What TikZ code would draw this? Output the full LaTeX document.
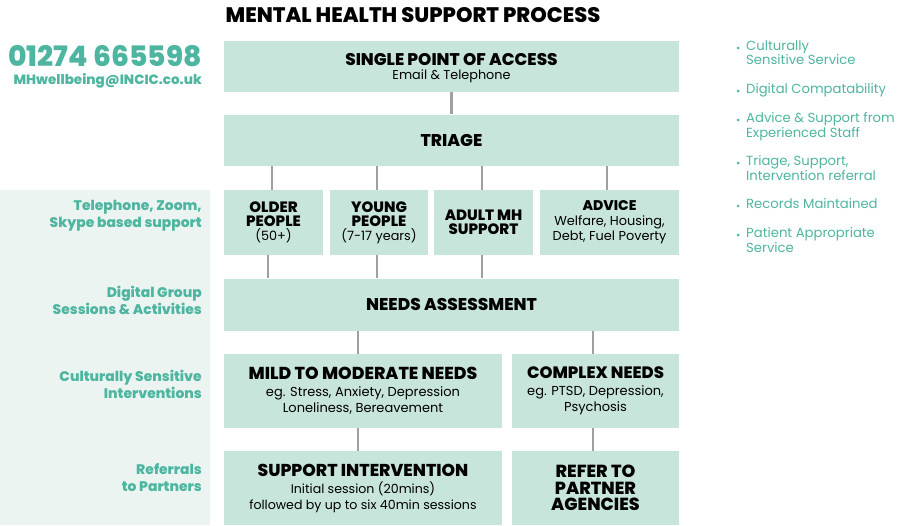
\documentclass[tikz,border=0pt]{standalone}
\usepackage{fontspec}
\setmainfont{Poppins}[BoldFont={Poppins ExtraBold}]
\usetikzlibrary{calc}
\definecolor{boxfill}{HTML}{C8E5DC}
\definecolor{panelfill}{HTML}{EBF4F1}
\definecolor{teal}{HTML}{4DB5A0}
\definecolor{linkgray}{HTML}{A0A0A0}
\newcommand{\fs}[1]{\fontsize{#1}{#1}\selectfont}
\tikzset{
  stage/.style={fill=boxfill, draw=none, inner sep=0pt, align=center, text=black},
  head/.style={font=\fs{17}\bfseries},
  link/.style={draw=linkgray, line width=2.6pt},
  sidelabel/.style={anchor=east, align=right, text=teal, font=\fontsize{13.9}{17}\selectfont\bfseries, inner sep=0pt},
  perk/.style={anchor=north west, align=left, text=teal, font=\fontsize{13.2}{14.5}\selectfont, inner sep=0pt},
  dot/.style={circle, fill=teal, inner sep=0pt, minimum size=3pt}
}
\begin{document}
\begin{tikzpicture}[x=1pt, y=-1pt]
\useasboundingbox (0,0) rectangle (901,525);
% side panel
\fill[panelfill] (0,190) rectangle (210,525);

% title and contact
\node[inner sep=0pt, font=\fs{21}\bfseries] (title) at (413,15) {MENTAL HEALTH SUPPORT PROCESS};
\node[anchor=base east, inner sep=0pt, text depth=0pt, text=teal, font=\fs{28.2}\bfseries] (phone) at (202,66.5) {01274 665598};
\node[anchor=base east, inner sep=0pt, text height=9.5pt, text=teal, font=\fs{13.5}\bfseries] (mail) at (202,84.5) {MHwellbeing@INCIC.co.uk};

% process boxes
\node[stage, minimum width=455pt, minimum height=51pt] (spa) at (451.5,66.5) {};
\node[inner sep=0pt, font=\fs{16.9}\bfseries] (spat) at (451.5,60) {SINGLE POINT OF ACCESS};
\node[inner sep=0pt, font=\fs{12.8}] (spas) at (451.5,76.5) {Email \& Telephone};

\node[stage, minimum width=455pt, minimum height=51pt, head] (triage) at (451.5,140) {TRIAGE};

\node[stage, minimum width=99pt, minimum height=65pt, font=\fontsize{15}{14}\selectfont\bfseries] (older) at (273.5,222.5) {OLDER\\PEOPLE\\{\fontsize{12.8}{15}\selectfont\mdseries (50+)}};
\node[stage, minimum width=98pt, minimum height=65pt, font=\fontsize{15}{14}\selectfont\bfseries] (young) at (379,222.5) {YOUNG\\PEOPLE\\{\fontsize{12.8}{15}\selectfont\mdseries (7-17 years)}};
\node[stage, minimum width=99pt, minimum height=65pt, font=\fontsize{15}{14}\selectfont\bfseries] (adult) at (483.5,222.5) {ADULT MH\\SUPPORT};
\node[stage, minimum width=139pt, minimum height=65pt, font=\fontsize{12.9}{15}\selectfont] (advice) at (609.5,222.5) {{\fs{14}\bfseries ADVICE}\\Welfare, Housing,\\Debt, Fuel Poverty};

\node[stage, minimum width=455pt, minimum height=52pt, head] (needs) at (451.5,304.5) {NEEDS ASSESSMENT};

\node[stage, minimum width=278pt, minimum height=74pt, font=\fontsize{13}{16}\selectfont] (mild) at (363,391) {{\fs{17.3}\bfseries MILD TO MODERATE NEEDS}\\[1pt]eg. Stress, Anxiety, Depression\\Loneliness, Bereavement};
\node[stage, minimum width=167pt, minimum height=74pt, font=\fontsize{13}{16}\selectfont] (complex) at (595.5,391) {{\fs{16.5}\bfseries COMPLEX NEEDS}\\[1pt]eg. PTSD, Depression,\\Psychosis};

\node[stage, minimum width=278pt, minimum height=74pt, font=\fontsize{12.6}{16}\selectfont] (interv) at (363,488) {{\fs{17.2}\bfseries SUPPORT INTERVENTION}\\[1pt]Initial session (20mins)\\followed by up to six 40min sessions};
\node[stage, minimum width=167pt, minimum height=74pt, font=\fontsize{17.5}{16.5}\selectfont\bfseries] (refer) at (595.5,488) {REFER TO\\PARTNER\\AGENCIES};

% connectors
\draw[link] (spa.south) -- (triage.north);
\draw[link] ($(older.north)+(-1.5,0)$) -- ($(older.north |- triage.south)+(-1.5,0)$);
\draw[link] ($(young.north)+(-2,0)$) -- ($(young.north |- triage.south)+(-2,0)$);
\draw[link] ($(adult.north)+(-1.5,0)$) -- ($(adult.north |- triage.south)+(-1.5,0)$);
\draw[link] ($(advice.north)+(-2.5,0)$) -- ($(advice.north |- triage.south)+(-2.5,0)$);
\draw[link] ($(older.south)+(-5.5,0)$) -- ($(older.south |- needs.north)+(-5.5,0)$);
\draw[link] ($(young.south)+(-2,0)$) -- ($(young.south |- needs.north)+(-2,0)$);
\draw[link] ($(adult.south)+(-1.5,0)$) -- ($(adult.south |- needs.north)+(-1.5,0)$);
\draw[link] ($(mild.north)+(-5,0)$) -- ($(mild.north |- needs.south)+(-5,0)$);
\draw[link] ($(complex.north)+(-2.5,0)$) -- ($(complex.north |- needs.south)+(-2.5,0)$);
\draw[link] ($(mild.south)+(-5,0)$) -- ($(interv.north)+(-5,0)$);
\draw[link] ($(complex.south)+(-2.5,0)$) -- ($(refer.north)+(-2.5,0)$);

% side labels
\node[sidelabel] (l1) at (202,215.5) {Telephone, Zoom,\\Skype based support};
\node[sidelabel] (l2) at (202,300.5) {Digital Group\\Sessions \& Activities};
\node[sidelabel] (l3) at (202,384.5) {Culturally Sensitive\\Interventions};
\node[sidelabel] (l4) at (202,478) {Referrals\\to Partners};

% benefits list
\node[perk] (p1) at (746,40.5) {Culturally\\Sensitive Service};
\node[perk] (p2) at (746,83.5) {Digital Compatability};
\node[perk] (p3) at (746,112.5) {Advice \& Support from\\Experienced Staff};
\node[perk] (p4) at (746,155.5) {Triage, Support,\\Intervention referral};
\node[perk] (p5) at (746,198.5) {Records Maintained};
\node[perk] (p6) at (746,227.5) {Patient Appropriate\\Service};
\foreach \p in {p1,p2,p3,p4,p5,p6}
  \node[dot] at ($(\p.north west)+(-8,7.5)$) {};
\end{tikzpicture}
\end{document}
